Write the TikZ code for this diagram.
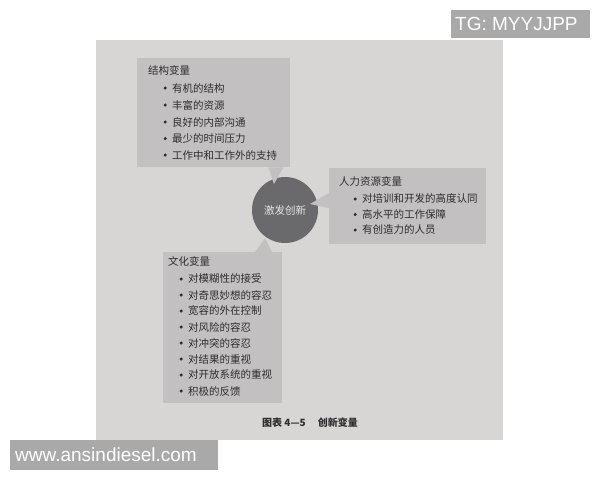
\documentclass[tikz,border=0pt]{standalone}
\usepackage{fontspec}
\setmainfont{Liberation Sans}
\newfontfamily\cjk{Noto Sans CJK SC}
\definecolor{pagebg}{HTML}{D8D5D5}
\definecolor{boxbg}{HTML}{C2C0C0}
\definecolor{circ}{HTML}{6A696B}
\definecolor{ink}{HTML}{2E2E2E}
\definecolor{wm}{HTML}{A9A9A9}
\tikzset{
  panel/.style={fill=boxbg, draw=none, inner sep=0pt, anchor=north west},
  head/.style={anchor=west, font=\cjk\fontsize{10.5}{12}\selectfont, text=ink, inner sep=0pt},
  dot/.style={circle, fill=ink, inner sep=0pt, minimum size=3.3pt},
  item/.style={head, label={[dot, label distance=5pt]west:{}}},
  pointer/.style={fill=boxbg, draw=none},
  wmbox/.style={fill=wm, draw=none, inner sep=0pt, anchor=north west},
  wmtext/.style={anchor=west, inner sep=0pt, text=white, font=\fontsize{19}{22}\selectfont},
}
\begin{document}
\begin{tikzpicture}[x=1pt,y=-1pt]
\useasboundingbox (0,0) rectangle (600,480);
\fill[white] (0,0) rectangle (600,480);
% page photo
\node[panel, fill=pagebg, minimum width=407pt, minimum height=400pt] (page) at (96,40) {};
% boxes
\node[panel, minimum width=153pt, minimum height=109pt] (sbox) at (137,58) {};
\node[panel, minimum width=157pt, minimum height=76pt] (hbox) at (329,168) {};
\node[panel, minimum width=119pt, minimum height=151pt] (cbox) at (163,252) {};
% circle
\node[circle, fill=circ, minimum size=66pt, inner sep=0pt, text=white!82!circ,
      font=\cjk\fontsize{10.5}{12}\selectfont] (core) at (285,210) {激发创新};
% pointers
\coordinate (sp) at (274,184);
\coordinate (hp) at (310,204);
\coordinate (cp) at (265,238);
\fill[pointer] ([xshift=-22pt]sbox.south east) -- (sp) -- ([xshift=-7pt]sbox.south east) -- cycle;
\fill[pointer] ([yshift=-25pt]hbox.north west) -- (hp) -- ([yshift=-40pt]hbox.north west) -- cycle;
\fill[pointer] ([xshift=92pt]cbox.north west) -- (cp) -- ([xshift=109pt]cbox.north west) -- cycle;
% structural variables
\node[head] (st) at (148,70) {结构变量};
\node[item] (s1) at (172,88) {有机的结构};
\node[item] (s2) at (172,105) {丰富的资源};
\node[item] (s3) at (172,122) {良好的内部沟通};
\node[item] (s4) at (172,138.5) {最少的时间压力};
\node[item] (s5) at (172,155) {工作中和工作外的支持};
% HR variables
\node[head] (ht) at (339,181) {人力资源变量};
\node[item] (h1) at (362,199) {对培训和开发的高度认同};
\node[item] (h2) at (362,214.5) {高水平的工作保障};
\node[item] (h3) at (362,230) {有创造力的人员};
% culture variables
\node[head] (ct) at (168,261) {文化变量};
\node[item] (c1) at (188,279) {对模糊性的接受};
\node[item] (c2) at (188,295) {对奇思妙想的容忍};
\node[item] (c3) at (188,311) {宽容的外在控制};
\node[item] (c4) at (188,327) {对风险的容忍};
\node[item] (c5) at (188,343) {对冲突的容忍};
\node[item] (c6) at (188,359) {对结果的重视};
\node[item] (c7) at (188,375) {对开放系统的重视};
\node[item] (c8) at (188,391) {积极的反馈};
% caption
\node[inner sep=0pt, text=ink, font=\cjk\bfseries\fontsize{10}{12}\selectfont] (cap) at (310,423) {图表 4—5\hspace{1.2em}创新变量};
% watermarks
\node[wmbox, minimum width=139pt, minimum height=28pt] (tgbox) at (451,10) {};
\node[wmtext] (tg) at (455,24) {TG: MYYJJPP};
\node[wmbox, minimum width=208pt, minimum height=30pt] (wwwbox) at (10,440) {};
\node[wmtext] (www) at (15,455) {www.ansindiesel.com};
\end{tikzpicture}
\end{document}
